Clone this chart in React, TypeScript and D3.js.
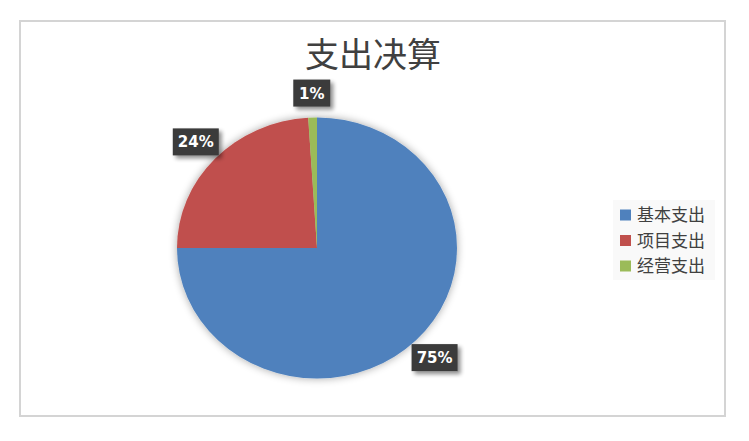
import React from "react";
import * as d3 from "d3";

const categories = ["基本支出", "项目支出", "经营支出"];
const values = [75, 24, 1];
const colors = ["#4F81BD", "#C0504D", "#9BBB59"];
const title = "支出决算";

const W = 749;
const H = 441;

export default function App() {
  const cx = 317;
  const cy = 248;
  const r = 130.5;
  const sx = 140 / 130.5;
  const pie = d3.pie<number>().sort(null).value((d) => d);
  const arcs = pie(values);
  const arc = d3.arc<d3.PieArcDatum<number>>().innerRadius(0).outerRadius(r);
  const labelArc = d3.arc<d3.PieArcDatum<number>>().innerRadius(155).outerRadius(155);
  const total = d3.sum(values);
  const font = "'Noto Sans CJK SC', 'Noto Sans', sans-serif";

  return (
    <svg
      width={W}
      height={H}
      style={{ position: "absolute", left: 0, top: 0, background: "#fff" }}
    >
      <defs>
        <filter id="pieShadow" x="-20%" y="-20%" width="140%" height="140%">
          <feGaussianBlur in="SourceAlpha" stdDeviation="4" />
          <feOffset dx="0" dy="0" result="b" />
          <feComponentTransfer>
            <feFuncA type="linear" slope="0.35" />
          </feComponentTransfer>
          <feMerge>
            <feMergeNode />
            <feMergeNode in="SourceGraphic" />
          </feMerge>
        </filter>
        <filter id="boxShadow" x="-30%" y="-30%" width="170%" height="170%">
          <feGaussianBlur in="SourceAlpha" stdDeviation="2" />
          <feOffset dx="3" dy="3" />
          <feComponentTransfer>
            <feFuncA type="linear" slope="0.45" />
          </feComponentTransfer>
          <feMerge>
            <feMergeNode />
            <feMergeNode in="SourceGraphic" />
          </feMerge>
        </filter>
      </defs>
      <rect x={20} y={21} width={705} height={395} fill="#fff" stroke="#d4d4d4" strokeWidth={2} />
      <text
        x={373}
        y={67}
        textAnchor="middle"
        fontFamily={font}
        fontSize={34}
        fill="#404040"
      >
        {title}
      </text>
      <g transform={`translate(${cx},${cy}) scale(${sx},1)`} filter="url(#pieShadow)">
        {arcs.map((a, i) => (
          <path key={i} d={arc(a) || ""} fill={colors[i]} />
        ))}
      </g>
      {arcs.map((a, i) => {
        const [lx, ly] = labelArc.centroid(a);
        const txt = `${Math.round((a.data / total) * 100)}%`;
        const digits = txt.length - 1;
        const bw = 9 * digits + 13 + 15;
        const bh = 27;
        const x = cx + lx * sx;
        const y = cy + ly;
        return (
          <g key={i}>
            <rect
              x={x - bw / 2}
              y={y - bh / 2}
              width={bw}
              height={bh}
              fill="#3a3a3a"
              filter="url(#boxShadow)"
            />
            <text
              x={x}
              y={y + 5.5}
              textAnchor="middle"
              fontFamily="'DejaVu Sans', sans-serif"
              fontWeight="bold"
              fontSize={15}
              fill="#fff"
            >
              {txt}
            </text>
          </g>
        );
      })}
      <rect x={613} y={200} width={102} height={80} fill="#f9f9f9" />
      {categories.map((c, i) => (
        <g key={c} transform={`translate(620, ${215 + i * 25.5})`}>
          <rect x={0} y={-5.5} width={11} height={11} fill={colors[i]} />
          <text x={17} y={6} fontFamily={font} fontSize={17} fill="#404040">
            {c}
          </text>
        </g>
      ))}
    </svg>
  );
}
